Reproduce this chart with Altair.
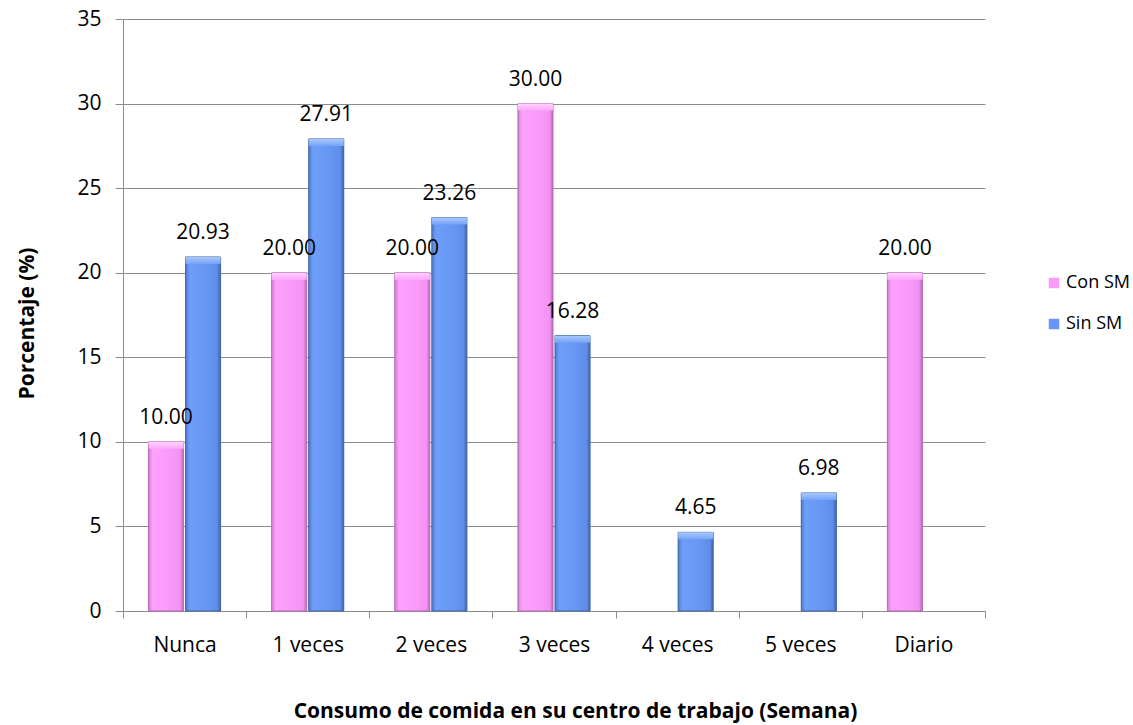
import altair as alt
import pandas as pd

categories = ["Nunca", "1 veces", "2 veces", "3 veces", "4 veces", "5 veces", "Diario"]
series = ["Con SM", "Sin SM"]
con_sm = [10.00, 20.00, 20.00, 30.00, 0.0, 0.0, 20.00]
sin_sm = [20.93, 27.91, 23.26, 16.28, 4.65, 6.98, 0.0]
y_ticks = [0, 5, 10, 15, 20, 25, 30, 35]

rows = []
for c, a, b in zip(categories, con_sm, sin_sm):
    rows.append({"cat": c, "serie": "Con SM", "value": a})
    rows.append({"cat": c, "serie": "Sin SM", "value": b})
df = pd.DataFrame(rows)

FONT = "Open Sans"
GRAY = "#8C8C8C"

x_enc = alt.X(
    "cat:N",
    sort=categories,
    scale=alt.Scale(domain=categories, paddingInner=0, paddingOuter=0),
    axis=alt.Axis(
        title="Consumo de comida en su centro de trabajo (Semana)",
        tickBand="extent",
        labelAngle=0,
        labelFont=FONT,
        labelFontSize=21,
        labelColor="black",
        labelBaseline="alphabetic",
        labelPadding=33,
        tickSize=7,
        tickColor=GRAY,
        domainColor=GRAY,
        titleFont=FONT,
        titleFontSize=21,
        titleFontWeight="bold",
        titleColor="black",
        titleX=452,
        titleY=106,
        titleBaseline="alphabetic",
        titleAlign="center",
        titleAnchor="start",
    ),
)
xo_enc = alt.XOffset(
    "serie:N",
    sort=series,
    scale=alt.Scale(domain=series, paddingInner=0.054, paddingOuter=0.689),
)
y_enc = alt.Y(
    "value:Q",
    scale=alt.Scale(domain=[0, 35], nice=False, zero=True),
    axis=alt.Axis(
        title="Porcentaje (%)",
        values=y_ticks,
        grid=True,
        gridColor=GRAY,
        gridWidth=1,
        domainColor=GRAY,
        tickColor=GRAY,
        tickSize=8,
        labelPadding=14,
        labelFont=FONT,
        labelFontSize=21,
        labelColor="black",
        titleFont=FONT,
        titleFontSize=21,
        titleFontWeight="bold",
        titleColor="black",
        titleAngle=-90,
        titleX=-96,
        titleY=304,
        titleBaseline="middle",
        titleAlign="center",
        titleAnchor="start",
    ),
)

base = alt.Chart(df).transform_filter(alt.datum.value > 0)

solid = base.mark_bar().encode(
    x=x_enc,
    xOffset=xo_enc,
    y=y_enc,
    color=alt.Color(
        "serie:N",
        sort=series,
        scale=alt.Scale(domain=series, range=["#FA9AFA", "#6697F5"]),
        legend=alt.Legend(
            title=None,
            orient="none",
            legendX=922,
            legendY=255,
            symbolType="square",
            symbolSize=110,
            symbolStrokeWidth=0,
            labelFont=FONT,
            labelFontSize=18,
            labelColor="black",
            rowPadding=23,
            labelOffset=3,
        ),
    ),
)

pink_grad = alt.Gradient(
    gradient="linear", x1=0, x2=1, y1=0, y2=0,
    stops=[
        alt.GradientStop(color="#D47ED4", offset=0),
        alt.GradientStop(color="#FDA2FD", offset=0.12),
        alt.GradientStop(color="#FA9AFA", offset=0.6),
        alt.GradientStop(color="#F292F2", offset=0.9),
        alt.GradientStop(color="#BF66BF", offset=1),
    ],
)
blue_grad = alt.Gradient(
    gradient="linear", x1=0, x2=1, y1=0, y2=0,
    stops=[
        alt.GradientStop(color="#4F7BCF", offset=0),
        alt.GradientStop(color="#6E9EF8", offset=0.12),
        alt.GradientStop(color="#6697F5", offset=0.6),
        alt.GradientStop(color="#5F8DE8", offset=0.9),
        alt.GradientStop(color="#3F64B0", offset=1),
    ],
)
pink_top = alt.Gradient(
    gradient="linear", x1=0, x2=0, y1=0, y2=1,
    stops=[
        alt.GradientStop(color="#FFD2FF", offset=0),
        alt.GradientStop(color="#FCA8FC", offset=1),
    ],
)
blue_top = alt.Gradient(
    gradient="linear", x1=0, x2=0, y1=0, y2=1,
    stops=[
        alt.GradientStop(color="#A9C8FF", offset=0),
        alt.GradientStop(color="#75A3F8", offset=1),
    ],
)

pink = base.transform_filter(alt.datum.serie == "Con SM").mark_bar(
    fill=pink_grad, stroke="#B46AB4", strokeWidth=1
).encode(x=x_enc, xOffset=xo_enc, y=y_enc)
blue = base.transform_filter(alt.datum.serie == "Sin SM").mark_bar(
    fill=blue_grad, stroke="#44679F", strokeWidth=1
).encode(x=x_enc, xOffset=xo_enc, y=y_enc)

pink_cap = base.transform_filter(alt.datum.serie == "Con SM").mark_bar(
    fill=pink_top, y2Offset=7, xOffset=4, x2Offset=-4
).encode(x=x_enc, xOffset=xo_enc, y=y_enc, y2="value:Q")
blue_cap = base.transform_filter(alt.datum.serie == "Sin SM").mark_bar(
    fill=blue_top, y2Offset=7, xOffset=4, x2Offset=-4
).encode(x=x_enc, xOffset=xo_enc, y=y_enc, y2="value:Q")

labels = base.mark_text(
    dy=-18, baseline="alphabetic", align="center", font=FONT, fontSize=21, color="black"
).encode(
    x=x_enc, xOffset=xo_enc, y=y_enc,
    text=alt.Text("value:Q", format=".2f"),
)

chart = alt.layer(solid, pink, blue, pink_cap, blue_cap, labels).properties(
    width=862,
    height=592,
    autosize=alt.AutoSizeParams(type="none"),
    padding={"left": 123, "top": 19, "right": 148, "bottom": 114},
    background="white",
).configure_view(stroke=None)

chart.save("out.html", embed_options={"renderer": "svg", "actions": False})
